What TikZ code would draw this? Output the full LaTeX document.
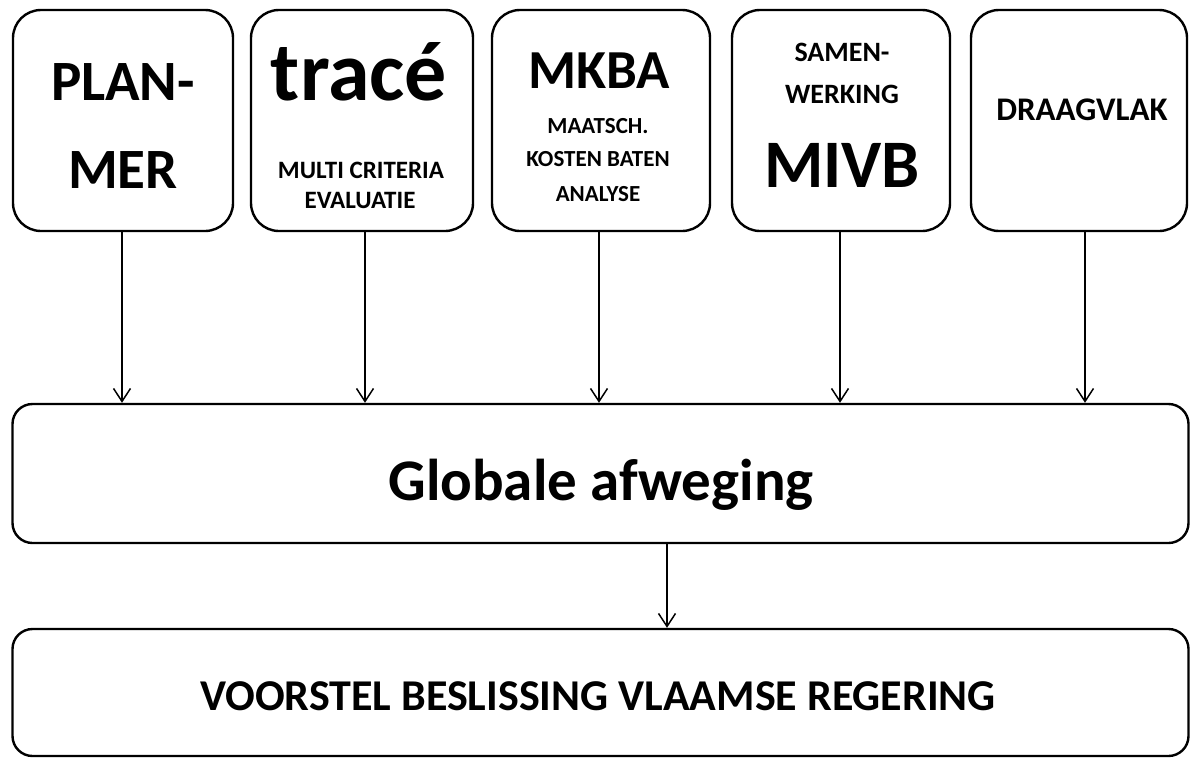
\documentclass[tikz,border=0pt]{standalone}
\usepackage{fontspec}
\setmainfont{Carlito}
\usetikzlibrary{arrows.meta}
\tikzset{
  topbox/.style={draw, line width=2.4pt, rounded corners=28pt, minimum height=221pt, inner sep=0pt},
  widebox/.style={draw, line width=2.4pt, rounded corners=20pt, minimum width=1176pt, inner sep=0pt},
  lbl/.style={anchor=base, inner sep=0pt, font=\bfseries},
  conn/.style={line width=1.5pt, -{Straight Barb[length=13pt,width=17pt,line width=1.5pt]}},
}
\newcommand{\fsz}[1]{\fontsize{#1}{#1}\selectfont}
\begin{document}
\begin{tikzpicture}[x=1pt,y=-1pt]
\useasboundingbox (0,0) rectangle (1190,760);
% top boxes
\node[topbox, minimum width=220pt] (b1) at (123,120.5) {};
\node[topbox, minimum width=222pt] (b2) at (362,120.5) {};
\node[topbox, minimum width=218pt] (b3) at (601,120.5) {};
\node[topbox, minimum width=218pt] (b4) at (841,120.5) {};
\node[topbox, minimum width=216pt] (b5) at (1079,120.5) {};
% wide boxes
\node[widebox, minimum height=139pt] (g) at (600.5,473.5) {};
\node[widebox, minimum height=127pt] (v) at (600.5,692.5) {};
% texts
\node[lbl, font=\bfseries\fsz{57}] (t1a) at (123,100) {PLAN-};
\node[lbl, font=\bfseries\fsz{57}] (t1b) at (123,188) {MER};
\node[lbl, font=\bfseries\fsz{84}] (t2a) at (359,100) {tracé};
\node[lbl, font=\bfseries\fsz{25}] (t2b) at (361,178) {MULTI CRITERIA};
\node[lbl, font=\bfseries\fsz{25}] (t2c) at (360,208) {EVALUATIE};
\node[lbl, font=\bfseries\fsz{55}] (t3a) at (599,88) {MKBA};
\node[lbl, font=\bfseries\fsz{23}] (t3b) at (598,133) {MAATSCH.};
\node[lbl, font=\bfseries\fsz{23}] (t3c) at (598,166) {KOSTEN BATEN};
\node[lbl, font=\bfseries\fsz{23}] (t3d) at (598,201) {ANALYSE};
\node[lbl, font=\bfseries\fsz{28}] (t4a) at (842,62) {SAMEN-};
\node[lbl, font=\bfseries\fsz{28}] (t4b) at (842,103) {WERKING};
\node[lbl, font=\bfseries\fsz{68}] (t4c) at (842,187) {MIVB};
\node[lbl, font=\bfseries\fsz{33}] (t5) at (1082,120) {DRAAGVLAK};
\node[lbl, font=\bfseries\fsz{59}] (tg) at (601,500) {Globale afweging};
\node[lbl, font=\bfseries\fsz{44}] (tv) at (598,710) {VOORSTEL BESLISSING VLAAMSE REGERING};
% connectors
\draw[conn] ([xshift=-1pt]b1.south) -- ([xshift=-1pt]b1.south |- g.north);
\draw[conn] ([xshift=3pt]b2.south) -- ([xshift=3pt]b2.south |- g.north);
\draw[conn] ([xshift=-2pt]b3.south) -- ([xshift=-2pt]b3.south |- g.north);
\draw[conn] ([xshift=-1pt]b4.south) -- ([xshift=-1pt]b4.south |- g.north);
\draw[conn] ([xshift=6pt]b5.south) -- ([xshift=6pt]b5.south |- g.north);
\draw[conn] ([xshift=66.5pt]g.south) -- ([xshift=66.5pt]g.south |- v.north);
\end{tikzpicture}
\end{document}
